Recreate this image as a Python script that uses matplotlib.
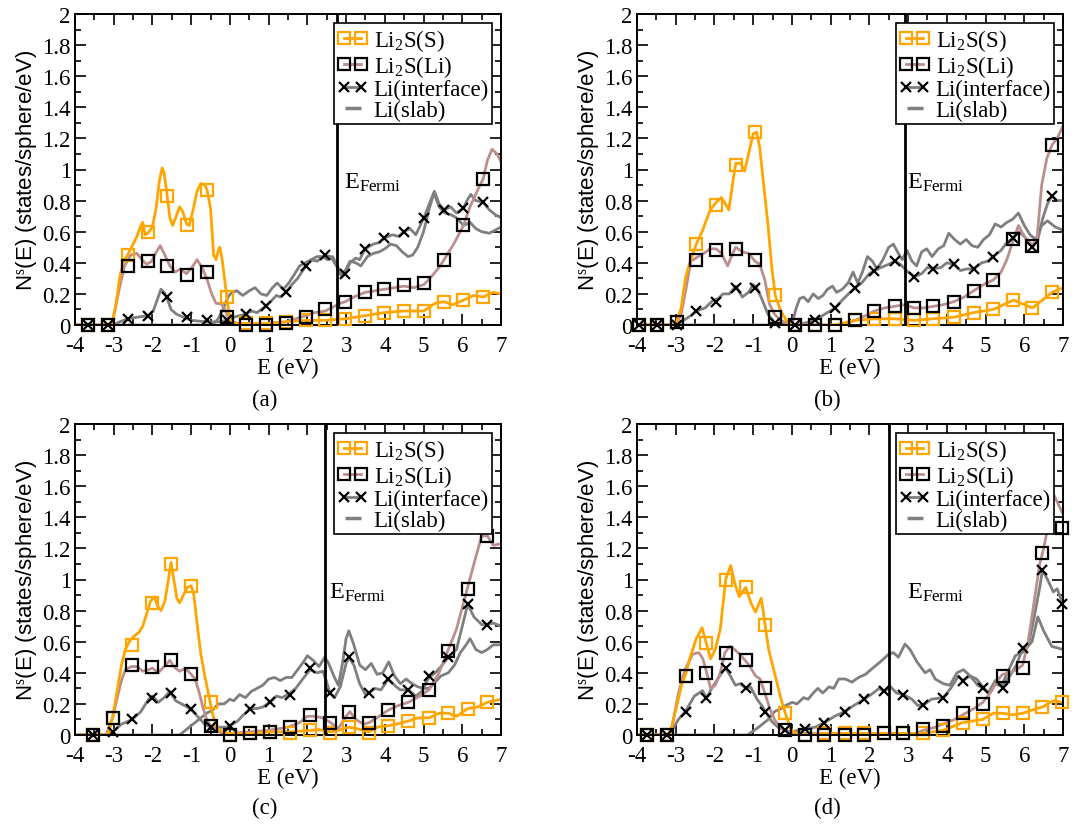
import numpy as np
import matplotlib
matplotlib.use('Agg')
import matplotlib.pyplot as plt
from matplotlib.lines import Line2D
from matplotlib.legend_handler import HandlerLine2D
from matplotlib.ticker import MultipleLocator, FuncFormatter

plt.rcParams['font.family'] = 'Liberation Serif'
plt.rcParams['mathtext.fontset'] = 'custom'
plt.rcParams['mathtext.rm'] = 'Liberation Serif'
plt.rcParams['mathtext.it'] = 'Liberation Serif:italic'
plt.rcParams['mathtext.default'] = 'rm'
plt.rcParams['axes.unicode_minus'] = False

# ---------------- panel (a) ----------------
fermi_a = 2.77
mark_e_a = [-3.66, -3.16, -2.64, -2.12, -1.62, -1.10, -0.59, -0.08, 0.41, 0.92, 1.45,
            1.96, 2.46, 2.98, 3.49, 3.99, 4.49, 5.01, 5.53, 6.03, 6.54]
s_mark_a = [0, 0, 0.45, 0.60, 0.83, 0.64, 0.87, 0.18, 0.01, 0.01, 0.02,
            0.03, 0.03, 0.04, 0.06, 0.08, 0.09, 0.09, 0.15, 0.16, 0.18]
li_mark_a = [0, 0, 0.38, 0.41, 0.38, 0.32, 0.34, 0.05, 0.0, 0.0, 0.01,
             0.05, 0.10, 0.15, 0.21, 0.23, 0.26, 0.27, 0.42, 0.64, 0.94]
if_mark_a = [0, 0, 0.04, 0.06, 0.18, 0.05, 0.03, 0.03, 0.07, 0.12, 0.21,
             0.38, 0.45, 0.33, 0.49, 0.56, 0.60, 0.69, 0.74, 0.75, 0.79]
s_line_a = [(-4, 0), (-3.05, 0), (-2.95, 0.12), (-2.85, 0.3), (-2.75, 0.41), (-2.64, 0.45),
            (-2.5, 0.52), (-2.4, 0.57), (-2.3, 0.64), (-2.25, 0.66), (-2.19, 0.58), (-2.12, 0.59),
            (-2.0, 0.63), (-1.9, 0.76), (-1.82, 0.93), (-1.75, 1.01), (-1.7, 0.98), (-1.62, 0.83),
            (-1.55, 0.69), (-1.48, 0.64), (-1.4, 0.69), (-1.3, 0.76), (-1.22, 0.73), (-1.12, 0.65),
            (-1.05, 0.64), (-0.95, 0.74), (-0.85, 0.86), (-0.75, 0.91), (-0.65, 0.90), (-0.59, 0.87),
            (-0.5, 0.75), (-0.42, 0.45), (-0.36, 0.42), (-0.3, 0.48), (-0.26, 0.50), (-0.2, 0.42),
            (-0.08, 0.18), (0.0, 0.03), (0.1, 0.01), (0.41, 0.01), (0.92, 0.01), (1.45, 0.02),
            (1.96, 0.03), (2.46, 0.03), (2.98, 0.04), (3.49, 0.06), (3.99, 0.08), (4.49, 0.09),
            (5.01, 0.09), (5.3, 0.14), (5.53, 0.15), (5.75, 0.13), (6.03, 0.16), (6.3, 0.19),
            (6.54, 0.18), (6.8, 0.21), (7.0, 0.20)]
li_line_a = [(-4, 0), (-3.05, 0), (-2.95, 0.12), (-2.85, 0.24), (-2.72, 0.38), (-2.56, 0.45),
             (-2.4, 0.46), (-2.27, 0.42), (-2.15, 0.39), (-2.02, 0.41), (-1.9, 0.47), (-1.8, 0.51),
             (-1.68, 0.45), (-1.55, 0.38), (-1.42, 0.34), (-1.28, 0.36), (-1.12, 0.33), (-0.98, 0.37),
             (-0.85, 0.42), (-0.72, 0.37), (-0.6, 0.30), (-0.47, 0.20), (-0.36, 0.14), (-0.22, 0.135),
             (-0.13, 0.10), (-0.02, 0.03), (0.2, 0.01), (0.9, 0.01), (1.45, 0.02), (1.7, 0.04),
             (1.96, 0.06), (2.2, 0.08), (2.46, 0.09), (2.7, 0.12), (2.85, 0.14), (2.98, 0.15),
             (3.2, 0.18), (3.49, 0.21), (3.75, 0.22), (3.99, 0.23), (4.25, 0.24), (4.49, 0.25),
             (4.75, 0.24), (5.01, 0.26), (5.2, 0.31), (5.4, 0.37), (5.53, 0.42), (5.8, 0.53),
             (6.03, 0.64), (6.2, 0.76), (6.4, 0.87), (6.54, 0.94), (6.65, 1.06), (6.77, 1.13),
             (6.9, 1.10), (7.0, 1.05)]
if_line_a = [(-4, 0), (-3.0, 0), (-2.85, 0.02), (-2.64, 0.04), (-2.4, 0.05), (-2.12, 0.06),
             (-1.98, 0.09), (-1.88, 0.16), (-1.78, 0.23), (-1.7, 0.21), (-1.62, 0.17), (-1.52, 0.10),
             (-1.38, 0.07), (-1.2, 0.05), (-1.0, 0.03), (-0.59, 0.02), (-0.3, 0.02), (-0.08, 0.03),
             (0.1, 0.05), (0.25, 0.06), (0.41, 0.07), (0.55, 0.09), (0.7, 0.08), (0.92, 0.12),
             (1.05, 0.15), (1.2, 0.19), (1.3, 0.18), (1.45, 0.21), (1.6, 0.26), (1.75, 0.30),
             (1.96, 0.38), (2.1, 0.42), (2.25, 0.41), (2.46, 0.45), (2.6, 0.44), (2.75, 0.38),
             (2.9, 0.32), (2.98, 0.33), (3.1, 0.40), (3.25, 0.43), (3.35, 0.42), (3.49, 0.49),
             (3.7, 0.52), (3.85, 0.53), (3.99, 0.56), (4.2, 0.58), (4.35, 0.57), (4.49, 0.60),
             (4.65, 0.62), (4.8, 0.58), (5.01, 0.69), (5.15, 0.78), (5.28, 0.86), (5.4, 0.78),
             (5.53, 0.74), (5.7, 0.76), (5.85, 0.72), (6.03, 0.75), (6.12, 0.80), (6.22, 0.84),
             (6.35, 0.80), (6.54, 0.79), (6.7, 0.74), (6.85, 0.71), (7.0, 0.69)]
slab_line_a = [(-4, 0), (-0.45, 0), (-0.3, 0.04), (-0.18, 0.10), (-0.05, 0.18), (0.05, 0.21),
               (0.18, 0.22), (0.33, 0.19), (0.5, 0.22), (0.65, 0.24), (0.8, 0.20), (0.95, 0.19),
               (1.1, 0.24), (1.22, 0.27), (1.38, 0.23), (1.52, 0.27), (1.65, 0.32), (1.8, 0.38),
               (1.95, 0.40), (2.1, 0.42), (2.25, 0.44), (2.4, 0.44), (2.52, 0.42), (2.65, 0.44),
               (2.78, 0.38), (2.88, 0.31), (3.0, 0.36), (3.1, 0.41), (3.25, 0.40), (3.38, 0.38),
               (3.55, 0.44), (3.7, 0.46), (3.85, 0.47), (4.0, 0.49), (4.15, 0.52), (4.3, 0.51),
               (4.45, 0.47), (4.6, 0.44), (4.72, 0.45), (4.85, 0.50), (5.0, 0.60), (5.15, 0.75),
               (5.27, 0.85), (5.4, 0.76), (5.55, 0.72), (5.7, 0.71), (5.85, 0.69), (6.03, 0.64),
               (6.2, 0.66), (6.35, 0.62), (6.5, 0.60), (6.7, 0.59), (6.85, 0.61), (7.0, 0.63)]

# ---------------- panel (b) ----------------
fermi_b = 2.93
mark_e_b = [-3.96, -3.48, -2.97, -2.47, -1.96, -1.45, -0.95, -0.43, 0.08, 0.60, 1.12,
            1.63, 2.13, 2.65, 3.16, 3.65, 4.18, 4.69, 5.20, 5.72, 6.21, 6.72]
s_mark_b = [0, 0, 0.02, 0.52, 0.77, 1.03, 1.24, 0.19, 0.0, 0.0, 0.0,
            0.03, 0.04, 0.04, 0.03, 0.04, 0.05, 0.08, 0.10, 0.16, 0.11, 0.21]
li_mark_b = [0, 0, 0.02, 0.42, 0.48, 0.49, 0.42, 0.05, 0.0, 0.0, 0.0,
             0.03, 0.09, 0.12, 0.11, 0.12, 0.15, 0.22, 0.29, 0.55, 0.51, 1.16]
if_mark_b = [0, 0, 0.0, 0.09, 0.15, 0.24, 0.24, 0.01, 0.0, 0.03, 0.11,
             0.24, 0.35, 0.41, 0.31, 0.36, 0.39, 0.36, 0.44, 0.56, 0.50, 0.83]
s_line_b = [(-4, 0), (-3.0, 0), (-2.86, 0.11), (-2.75, 0.30), (-2.65, 0.39), (-2.47, 0.52),
            (-2.32, 0.60), (-2.11, 0.74), (-1.95, 0.79), (-1.82, 0.82), (-1.72, 0.78), (-1.63, 0.74),
            (-1.53, 0.91), (-1.45, 1.04), (-1.33, 1.04), (-1.22, 0.99), (-1.12, 1.10), (-1.0, 1.23),
            (-0.91, 1.24), (-0.83, 1.14), (-0.75, 0.95), (-0.62, 0.65), (-0.52, 0.37), (-0.43, 0.19),
            (-0.29, 0.09), (-0.12, 0.02), (0.04, 0.0), (1.12, 0.0), (1.63, 0.03), (2.13, 0.04),
            (2.65, 0.04), (3.16, 0.03), (3.65, 0.04), (4.18, 0.05), (4.69, 0.08), (5.20, 0.10),
            (5.72, 0.16), (6.21, 0.11), (6.72, 0.21), (7.0, 0.24)]
li_line_b = [(-4, 0), (-3.0, 0), (-2.86, 0.07), (-2.73, 0.24), (-2.61, 0.41), (-2.45, 0.435),
             (-2.28, 0.46), (-2.11, 0.49), (-1.96, 0.49), (-1.82, 0.46), (-1.66, 0.38), (-1.53, 0.46),
             (-1.45, 0.50), (-1.28, 0.47), (-1.12, 0.46), (-0.95, 0.41), (-0.83, 0.39), (-0.7, 0.29),
             (-0.58, 0.135), (-0.45, 0.07), (-0.29, 0.03), (-0.12, 0.01), (0.1, 0.0), (1.12, 0.0),
             (1.4, 0.01), (1.63, 0.03), (1.9, 0.06), (2.13, 0.09), (2.4, 0.11), (2.65, 0.12),
             (2.9, 0.13), (3.16, 0.11), (3.4, 0.11), (3.65, 0.12), (3.9, 0.13), (4.18, 0.15),
             (4.45, 0.18), (4.69, 0.22), (4.95, 0.26), (5.20, 0.29), (5.4, 0.34), (5.55, 0.42),
             (5.72, 0.55), (5.85, 0.64), (6.0, 0.57), (6.21, 0.51), (6.33, 0.56), (6.45, 0.90),
             (6.58, 1.07), (6.72, 1.16), (6.85, 1.20), (7.0, 1.28)]
if_line_b = [(-4, 0), (-3.0, 0), (-2.86, 0.02), (-2.61, 0.06), (-2.47, 0.09), (-2.24, 0.11),
             (-2.03, 0.16), (-1.9, 0.17), (-1.78, 0.20), (-1.62, 0.20), (-1.45, 0.25), (-1.28, 0.18),
             (-1.12, 0.21), (-1.0, 0.26), (-0.91, 0.24), (-0.78, 0.17), (-0.62, 0.07), (-0.43, 0.01),
             (0.08, 0.0), (0.3, 0.01), (0.6, 0.03), (0.85, 0.07), (1.12, 0.11), (1.3, 0.16),
             (1.5, 0.21), (1.63, 0.24), (1.8, 0.27), (2.0, 0.33), (2.13, 0.35), (2.3, 0.37),
             (2.5, 0.39), (2.65, 0.41), (2.8, 0.39), (3.0, 0.34), (3.16, 0.31), (3.35, 0.33),
             (3.5, 0.37), (3.65, 0.36), (3.85, 0.37), (4.0, 0.40), (4.18, 0.39), (4.35, 0.35),
             (4.5, 0.36), (4.69, 0.36), (4.9, 0.40), (5.05, 0.41), (5.2, 0.44), (5.4, 0.48),
             (5.55, 0.53), (5.72, 0.56), (5.85, 0.60), (6.0, 0.57), (6.21, 0.50), (6.35, 0.55),
             (6.47, 0.68), (6.6, 0.78), (6.72, 0.83), (6.85, 0.80), (7.0, 0.80)]
slab_line_b = [(-4, 0), (0.0, 0), (0.1, 0.10), (0.2, 0.17), (0.3, 0.18), (0.42, 0.15), (0.55, 0.20),
               (0.68, 0.17), (0.8, 0.19), (0.92, 0.23), (1.05, 0.25), (1.15, 0.21), (1.3, 0.23),
               (1.45, 0.27), (1.58, 0.34), (1.7, 0.27), (1.82, 0.34), (1.95, 0.44), (2.08, 0.41),
               (2.2, 0.36), (2.35, 0.42), (2.5, 0.50), (2.62, 0.52), (2.75, 0.46), (2.85, 0.42),
               (2.97, 0.48), (3.1, 0.41), (3.22, 0.38), (3.35, 0.47), (3.48, 0.49), (3.62, 0.44),
               (3.78, 0.49), (3.92, 0.51), (4.05, 0.59), (4.2, 0.55), (4.35, 0.52), (4.5, 0.55),
               (4.65, 0.51), (4.8, 0.50), (4.95, 0.55), (5.1, 0.58), (5.25, 0.65), (5.4, 0.63),
               (5.55, 0.66), (5.7, 0.68), (5.85, 0.72), (6.0, 0.64), (6.15, 0.58), (6.3, 0.55),
               (6.45, 0.64), (6.6, 0.67), (6.8, 0.63), (7.0, 0.61)]

# ---------------- panel (c) ----------------
fermi_c = 2.45
mark_e_c = [-3.53, -3.03, -2.52, -2.02, -1.52, -1.01, -0.50, 0.0, 0.53, 1.03, 1.55,
            2.07, 2.58, 3.07, 3.59, 4.09, 4.61, 5.14, 5.64, 6.14, 6.65]
s_mark_c = [0, 0.11, 0.58, 0.85, 1.10, 0.96, 0.21, 0.0, 0.01, 0.02, 0.01,
            0.03, 0.01, 0.05, 0.01, 0.06, 0.09, 0.11, 0.14, 0.17, 0.21]
li_mark_c = [0, 0.11, 0.45, 0.44, 0.48, 0.39, 0.06, 0.0, 0.01, 0.02, 0.05,
             0.13, 0.08, 0.15, 0.08, 0.16, 0.21, 0.29, 0.54, 0.94, 1.28]
if_mark_c = [0, 0.02, 0.10, 0.24, 0.27, 0.17, 0.05, 0.06, 0.17, 0.21, 0.26,
             0.43, 0.27, 0.50, 0.27, 0.36, 0.29, 0.38, 0.50, 0.84, 0.71]
s_line_c = [(-4, 0), (-3.15, 0), (-3.03, 0.11), (-2.9, 0.30), (-2.8, 0.45), (-2.7, 0.55),
            (-2.6, 0.60), (-2.5, 0.63), (-2.35, 0.66), (-2.25, 0.70), (-2.15, 0.78), (-2.05, 0.86),
            (-1.95, 0.89), (-1.85, 0.82), (-1.78, 0.80), (-1.68, 0.86), (-1.6, 0.98), (-1.52, 1.11),
            (-1.45, 1.00), (-1.37, 0.88), (-1.3, 0.85), (-1.2, 0.90), (-1.1, 0.95), (-1.0, 0.96),
            (-0.93, 0.90), (-0.85, 0.72), (-0.75, 0.52), (-0.65, 0.38), (-0.55, 0.26), (-0.45, 0.14),
            (-0.35, 0.05), (-0.2, 0.02), (0.0, 0.01), (0.53, 0.01), (1.03, 0.02), (1.55, 0.02),
            (2.07, 0.03), (2.3, 0.035), (2.58, 0.02), (2.8, 0.03), (3.07, 0.05), (3.3, 0.04),
            (3.59, 0.02), (3.8, 0.05), (4.09, 0.06), (4.3, 0.07), (4.61, 0.09), (4.85, 0.11),
            (5.14, 0.11), (5.4, 0.14), (5.64, 0.14), (5.85, 0.12), (6.14, 0.17), (6.4, 0.18),
            (6.65, 0.21), (7.0, 0.23)]
li_line_c = [(-4, 0), (-3.2, 0), (-3.03, 0.11), (-2.9, 0.25), (-2.8, 0.35), (-2.7, 0.42),
             (-2.55, 0.44), (-2.4, 0.44), (-2.25, 0.41), (-2.1, 0.42), (-2.0, 0.43), (-1.85, 0.40),
             (-1.7, 0.44), (-1.55, 0.48), (-1.45, 0.44), (-1.3, 0.41), (-1.15, 0.43), (-1.0, 0.39),
             (-0.9, 0.36), (-0.8, 0.28), (-0.7, 0.18), (-0.6, 0.10), (-0.5, 0.06), (-0.35, 0.03),
             (-0.2, 0.01), (0.0, 0.01), (0.5, 0.02), (1.0, 0.03), (1.5, 0.05), (1.8, 0.08),
             (2.0, 0.12), (2.2, 0.12), (2.4, 0.11), (2.6, 0.08), (2.8, 0.04), (3.0, 0.12),
             (3.1, 0.15), (3.25, 0.10), (3.45, 0.07), (3.6, 0.08), (3.85, 0.12), (4.09, 0.16),
             (4.35, 0.19), (4.61, 0.21), (4.9, 0.25), (5.14, 0.29), (5.4, 0.40), (5.64, 0.55),
             (5.85, 0.68), (6.0, 0.82), (6.14, 0.95), (6.3, 1.10), (6.5, 1.28), (6.65, 1.28),
             (6.8, 1.22), (7.0, 1.23)]
if_line_c = [(-4, 0), (-3.2, 0), (-3.03, 0.02), (-2.8, 0.07), (-2.52, 0.10), (-2.3, 0.15),
             (-2.1, 0.23), (-2.0, 0.25), (-1.85, 0.21), (-1.7, 0.24), (-1.55, 0.28), (-1.4, 0.22),
             (-1.25, 0.20), (-1.1, 0.18), (-0.95, 0.15), (-0.8, 0.11), (-0.65, 0.07), (-0.5, 0.05),
             (-0.3, 0.05), (-0.1, 0.05), (0.0, 0.06), (0.2, 0.09), (0.35, 0.13), (0.53, 0.17),
             (0.7, 0.17), (0.85, 0.18), (1.03, 0.21), (1.2, 0.25), (1.35, 0.24), (1.55, 0.27),
             (1.7, 0.30), (1.85, 0.35), (2.07, 0.42), (2.25, 0.40), (2.4, 0.41), (2.5, 0.34),
             (2.58, 0.27), (2.7, 0.24), (2.85, 0.31), (3.0, 0.46), (3.07, 0.50), (3.2, 0.45),
             (3.35, 0.33), (3.5, 0.26), (3.59, 0.27), (3.75, 0.30), (3.9, 0.29), (4.09, 0.36),
             (4.25, 0.32), (4.4, 0.29), (4.61, 0.29), (4.8, 0.25), (4.95, 0.28), (5.14, 0.37),
             (5.3, 0.40), (5.45, 0.44), (5.64, 0.50), (5.85, 0.55), (6.0, 0.70), (6.14, 0.84),
             (6.3, 0.76), (6.5, 0.71), (6.65, 0.71), (6.8, 0.72), (7.0, 0.70)]
slab_line_c = [(-4, 0), (-1.3, 0), (-1.2, 0.02), (-1.05, 0.05), (-0.9, 0.08), (-0.75, 0.11),
               (-0.6, 0.14), (-0.45, 0.16), (-0.3, 0.20), (-0.15, 0.20), (0.0, 0.23), (0.1, 0.22),
               (0.25, 0.26), (0.4, 0.24), (0.55, 0.28), (0.7, 0.30), (0.85, 0.32), (1.0, 0.36),
               (1.15, 0.37), (1.3, 0.35), (1.45, 0.37), (1.6, 0.37), (1.75, 0.42), (1.9, 0.47),
               (2.0, 0.51), (2.15, 0.48), (2.3, 0.44), (2.45, 0.50), (2.55, 0.46), (2.7, 0.37),
               (2.8, 0.32), (2.9, 0.45), (3.0, 0.62), (3.07, 0.67), (3.2, 0.58), (3.35, 0.45),
               (3.5, 0.42), (3.65, 0.46), (3.8, 0.39), (3.95, 0.40), (4.1, 0.47), (4.25, 0.38),
               (4.4, 0.33), (4.55, 0.36), (4.7, 0.33), (4.85, 0.31), (5.0, 0.30), (5.14, 0.30),
               (5.3, 0.34), (5.45, 0.38), (5.64, 0.40), (5.8, 0.45), (5.95, 0.53), (6.1, 0.58),
               (6.2, 0.62), (6.35, 0.55), (6.5, 0.53), (6.65, 0.55), (6.8, 0.58), (7.0, 0.58)]

# ---------------- panel (d) ----------------
fermi_d = 2.51
mark_e_d = [-3.74, -3.23, -2.73, -2.21, -1.71, -1.19, -0.70, -0.17, 0.34, 0.84, 1.36,
            1.87, 2.38, 2.88, 3.39, 3.90, 4.41, 4.93, 5.44, 5.96, 6.47, 6.97]
s_mark_d = [0, 0, 0.38, 0.59, 1.0, 0.95, 0.71, 0.14, 0.0, 0.01, 0.01,
            0.01, 0.01, 0.01, 0.01, 0.03, 0.08, 0.10, 0.14, 0.14, 0.18, 0.21]
li_mark_d = [0, 0, 0.38, 0.40, 0.53, 0.48, 0.30, 0.03, 0.0, 0.0, 0.0,
             0.0, 0.01, 0.01, 0.04, 0.06, 0.14, 0.20, 0.38, 0.43, 1.17, 1.33]
if_mark_d = [0, 0, 0.15, 0.24, 0.43, 0.30, 0.15, 0.03, 0.04, 0.08, 0.15,
             0.23, 0.28, 0.26, 0.19, 0.24, 0.35, 0.30, 0.30, 0.56, 1.06, 0.84]
s_line_d = [(-4, 0), (-3.15, 0), (-3.01, 0.15), (-2.85, 0.32), (-2.73, 0.40), (-2.64, 0.49),
            (-2.47, 0.62), (-2.32, 0.69), (-2.21, 0.59), (-2.1, 0.49), (-1.98, 0.55), (-1.85, 0.68),
            (-1.71, 1.00), (-1.58, 1.09), (-1.47, 0.97), (-1.36, 0.89), (-1.19, 0.95), (-1.06, 0.85),
            (-0.94, 0.79), (-0.79, 0.88), (-0.70, 0.72), (-0.6, 0.55), (-0.45, 0.40), (-0.28, 0.23),
            (-0.17, 0.14), (-0.03, 0.04), (0.1, 0.01), (0.34, 0.0), (0.84, 0.01), (3.39, 0.01),
            (3.90, 0.03), (4.41, 0.08), (4.93, 0.10), (5.2, 0.14), (5.44, 0.14), (5.7, 0.13),
            (5.96, 0.14), (6.2, 0.16), (6.47, 0.18), (6.75, 0.22), (7.0, 0.21)]
li_line_d = [(-4, 0), (-3.2, 0), (-3.09, 0.06), (-2.93, 0.27), (-2.76, 0.42), (-2.56, 0.52),
             (-2.4, 0.53), (-2.3, 0.49), (-2.2, 0.40), (-2.1, 0.30), (-1.98, 0.32), (-1.85, 0.40),
             (-1.73, 0.53), (-1.6, 0.57), (-1.48, 0.55), (-1.31, 0.51), (-1.11, 0.45), (-0.94, 0.38),
             (-0.82, 0.36), (-0.7, 0.27), (-0.57, 0.17), (-0.45, 0.10), (-0.28, 0.04), (-0.11, 0.02),
             (0.1, 0.01), (3.2, 0.01), (3.39, 0.03), (3.7, 0.05), (3.9, 0.07), (4.2, 0.10),
             (4.41, 0.13), (4.7, 0.17), (4.93, 0.21), (5.15, 0.28), (5.3, 0.35), (5.44, 0.39),
             (5.6, 0.40), (5.8, 0.42), (5.96, 0.45), (6.1, 0.60), (6.25, 0.85), (6.4, 1.10),
             (6.5, 1.20), (6.62, 1.35), (6.75, 1.55), (6.85, 1.50), (7.0, 1.42)]
if_line_d = [(-4, 0), (-3.2, 0), (-3.1, 0.03), (-2.93, 0.10), (-2.73, 0.16), (-2.52, 0.25),
             (-2.31, 0.285), (-2.21, 0.24), (-2.02, 0.32), (-1.81, 0.40), (-1.71, 0.43), (-1.59, 0.38),
             (-1.46, 0.32), (-1.34, 0.33), (-1.19, 0.30), (-1.07, 0.31), (-0.9, 0.23), (-0.78, 0.19),
             (-0.68, 0.15), (-0.53, 0.09), (-0.36, 0.05), (-0.17, 0.03), (0.0, 0.02), (0.34, 0.04),
             (0.6, 0.05), (0.84, 0.08), (1.1, 0.12), (1.36, 0.15), (1.6, 0.19), (1.87, 0.23),
             (2.1, 0.27), (2.25, 0.30), (2.38, 0.28), (2.55, 0.31), (2.7, 0.27), (2.88, 0.26),
             (3.1, 0.23), (3.25, 0.19), (3.39, 0.19), (3.6, 0.23), (3.9, 0.24), (4.1, 0.30),
             (4.3, 0.38), (4.41, 0.35), (4.6, 0.38), (4.8, 0.32), (4.93, 0.30), (5.1, 0.27),
             (5.25, 0.33), (5.44, 0.31), (5.6, 0.37), (5.8, 0.45), (5.96, 0.56), (6.1, 0.57),
             (6.25, 0.75), (6.4, 0.95), (6.47, 1.06), (6.6, 1.00), (6.75, 0.92), (6.85, 0.94),
             (7.0, 0.84)]
slab_line_d = [(-4, 0), (-1.15, 0), (-0.86, 0.05), (-0.61, 0.10), (-0.45, 0.15), (-0.28, 0.17),
               (-0.16, 0.19), (0.01, 0.21), (0.13, 0.20), (0.3, 0.24), (0.42, 0.23), (0.55, 0.27),
               (0.67, 0.30), (0.8, 0.27), (0.96, 0.31), (1.08, 0.30), (1.21, 0.36), (1.38, 0.36),
               (1.55, 0.34), (1.72, 0.37), (1.9, 0.39), (2.11, 0.435), (2.28, 0.47), (2.5, 0.52),
               (2.62, 0.53), (2.75, 0.50), (2.92, 0.585), (3.05, 0.55), (3.23, 0.47), (3.44, 0.40),
               (3.57, 0.42), (3.7, 0.36), (3.91, 0.33), (4.08, 0.32), (4.26, 0.40), (4.43, 0.42),
               (4.6, 0.38), (4.77, 0.36), (4.9, 0.32), (5.07, 0.27), (5.25, 0.35), (5.42, 0.32),
               (5.6, 0.42), (5.77, 0.51), (5.95, 0.53), (6.2, 0.60), (6.35, 0.76), (6.5, 0.67),
               (6.71, 0.57), (7.0, 0.55)]

labels = ['Li$_2$S(S)', 'Li$_2$S(Li)', 'Li(interface)', 'Li(slab)']
captions = ['(a)', '(b)', '(c)', '(d)']

ORANGE = '#ffa500'
BROWN = '#bc8f8f'
GRAY = '#7f7f7f'
FS = 16.5
SQ = 9      # square marker size
XS = 7.5    # cross marker size


def draw(ax, s_line, li_line, if_line, slab_line, mark_e, s_mark, li_mark, if_mark, fermi, dx):
    # curves
    for pts, col in [(slab_line, GRAY), (if_line, GRAY), (li_line, BROWN), (s_line, ORANGE)]:
        e, d = zip(*pts)
        ax.plot(e, d, color=col, lw=2.0, zorder=2)
    # symbols
    ax.plot(mark_e, li_mark, ls='none', marker='s', ms=SQ, mfc='none', mec='black',
            mew=1.6, zorder=4, clip_on=False)
    ax.plot(mark_e, s_mark, ls='none', marker='s', ms=SQ, mfc='none', mec=ORANGE,
            mew=1.6, zorder=3, clip_on=False)
    ax.plot(mark_e, if_mark, ls='none', marker='x', ms=XS, mec='black',
            mew=1.6, zorder=5, clip_on=False)
    ax.axvline(fermi, color='black', lw=2.0, zorder=6)
    ax.text(fermi + dx, 0.99, 'E$_{Fermi}$', fontsize=FS + 1, va='top', ha='left')

    ax.set_xlim(-4, 7)
    ax.set_ylim(0, 2)
    ax.xaxis.set_major_locator(MultipleLocator(1))
    ax.xaxis.set_minor_locator(MultipleLocator(0.5))
    ax.yaxis.set_major_locator(MultipleLocator(0.2))
    ax.yaxis.set_minor_locator(MultipleLocator(0.1))
    ax.xaxis.set_major_formatter(FuncFormatter(lambda v, p: '%g' % v))
    ax.yaxis.set_major_formatter(FuncFormatter(lambda v, p: '%g' % round(v, 1)))
    ax.tick_params(which='both', direction='in', top=True, right=True, width=1.2,
                   labelsize=FS)
    ax.tick_params(axis='x', pad=7)
    ax.tick_params(axis='y', pad=3)
    ax.tick_params(which='major', length=8)
    ax.tick_params(which='minor', length=4)
    for sp in ax.spines.values():
        sp.set_linewidth(1.4)
    ax.set_xlabel('E (eV)', fontsize=FS, labelpad=1)
    ax.set_ylabel('N$^{s}$(E) (states/sphere/eV)', fontsize=FS - 0.5,
                  family='Liberation Sans', labelpad=2)

    # legend: symbol-line-symbol handles, short dash for the slab line
    h_s = Line2D([], [], color=ORANGE, lw=2, marker='s', ms=SQ, mfc='none', mec=ORANGE, mew=1.6)
    h_li = Line2D([], [], color=BROWN, lw=2, marker='s', ms=SQ, mfc='none', mec='black', mew=1.6)
    h_if = Line2D([], [], color=GRAY, lw=2, marker='x', ms=XS, mec='black', mew=1.6)
    h_slab = Line2D([], [], ls='none', color=GRAY, marker='_', ms=12, mew=2.5)
    leg = ax.legend([h_s, h_li, h_if, h_slab], labels, loc='upper right',
                    bbox_to_anchor=(0.98, 0.97), borderaxespad=0, numpoints=2,
                    handlelength=1.35, handletextpad=0.25, labelspacing=0.0,
                    borderpad=0.15, fontsize=FS, fancybox=False, framealpha=1,
                    edgecolor='black', handler_map={h_slab: HandlerLine2D(numpoints=1)})
    leg.get_frame().set_linewidth(1.2)
    leg.set_zorder(10)


fig = plt.figure(figsize=(10.88, 8.29), dpi=100)
W, H = 1088, 829
boxes = [(75, 15), (637, 15), (75, 425), (637, 425)]
axes = [fig.add_axes([x / W, 1 - (y + 311) / H, 426 / W, 311 / H]) for x, y in boxes]

draw(axes[0], s_line_a, li_line_a, if_line_a, slab_line_a, mark_e_a, s_mark_a, li_mark_a, if_mark_a, fermi_a, 0.18)
draw(axes[1], s_line_b, li_line_b, if_line_b, slab_line_b, mark_e_b, s_mark_b, li_mark_b, if_mark_b, fermi_b, 0.04)
draw(axes[2], s_line_c, li_line_c, if_line_c, slab_line_c, mark_e_c, s_mark_c, li_mark_c, if_mark_c, fermi_c, 0.12)
draw(axes[3], s_line_d, li_line_d, if_line_d, slab_line_d, mark_e_d, s_mark_d, li_mark_d, if_mark_d, fermi_d, 0.45)

for (x, y), cap in zip([(265, 400), (827, 400), (265, 808), (827, 808)], captions):
    fig.text(x / W, 1 - y / H, cap, fontsize=FS, ha='center', va='center')

fig.savefig('out.png', dpi=100)
